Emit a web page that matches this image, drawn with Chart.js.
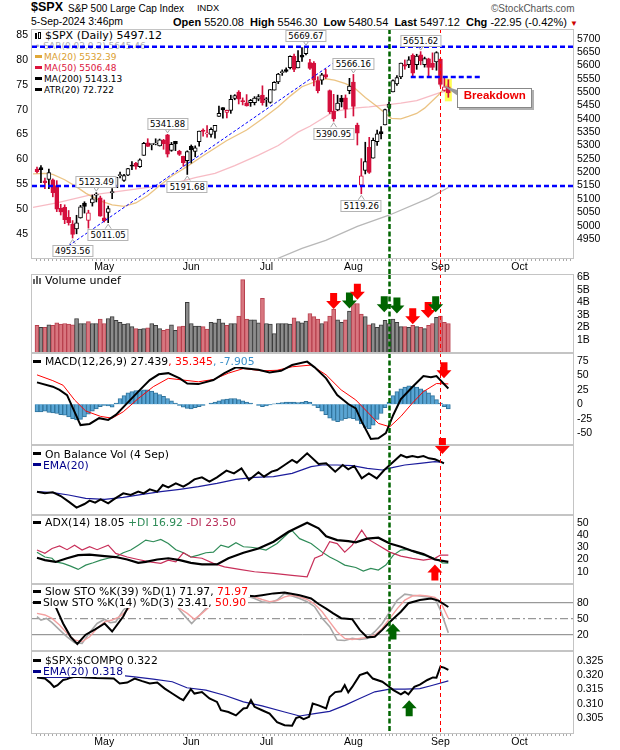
<!DOCTYPE html>
<html>
<head>
<meta charset="utf-8">
<title>$SPX Daily</title>
<script src="https://cdn.jsdelivr.net/npm/chart.js@4.4.1/dist/chart.umd.min.js"></script>
<style>
  html, body { margin: 0; padding: 0; background: #fff; }
  #wrap { position: relative; width: 620px; height: 750px; overflow: hidden; font-family: "DejaVu Sans", sans-serif; }
  canvas { position: absolute; left: 0; top: 0; z-index: 1; }
  .h { position: absolute; white-space: nowrap; font-family: "Liberation Sans", Arial, sans-serif; color: #000; line-height: 1; }
  .lg { position: absolute; left: 33px; white-space: nowrap; font-size: 10.8px; line-height: 11px; z-index: 4; background: #fff; padding-right: 2px; }
  .lm { position: absolute; left: 35px; white-space: nowrap; font-size: 9px; line-height: 11px; z-index: 0; }
  .d { display: inline-block; width: 8px; height: 3px; vertical-align: middle; margin: -2px 4px 0 0; }
  .tag { position: absolute; z-index: 3; font-size: 8.5px; line-height: 10px; padding: 0 2px; background: #fff; border: 1px solid #b4b4b4; transform: translate(-50%, -50%); white-space: nowrap; }
  #brk { position: absolute; z-index: 3; width: 73px; height: 18px; line-height: 18px; text-align: center; background: #fff; border: 1px solid #888; box-shadow: 2px 2px 0 #b0b0b0; color: #ee0000; font: bold 11.5px "Liberation Sans", Arial, sans-serif; }
</style>
</head>
<body>
<div id="wrap">
  <div class="h" style="left:31px;top:1.4px;font-size:12.5px;font-weight:bold">$SPX</div>
  <div class="h" style="left:68px;top:3.5px;font-size:10px">S&amp;P 500 Large Cap Index</div>
  <div class="h" style="left:197px;top:4.2px;font-size:9.3px">INDX</div>
  <div class="h" style="left:491px;top:3.5px;font-size:10px;color:#555">&copy;StockCharts.com</div>
  <div class="h" style="left:31px;top:17.2px;font-size:10.4px">5-Sep-2024 3:46pm</div>
  <div class="h" style="left:173px;top:16.7px;font-size:11px"><b>Open</b> 5520.08 &nbsp;<b>High</b> 5546.30 &nbsp;<b>Low</b> 5480.54 &nbsp;<b>Last</b> 5497.12 &nbsp;<b>Chg</b> -22.95 (-0.42%) <span style="color:#c00;font-size:8px">&#9660;</span></div>

  <div class="lm" style="top:29.5px;font-size:11px"><span style="display:inline-block;width:2px;height:6px;background:#000;margin-right:1px"></span><span style="display:inline-block;width:3px;height:7px;border:1px solid #000;box-sizing:border-box;margin-right:4px"></span>$SPX (Daily) 5497.12</div>
  <div class="lm" style="top:40.8px;color:#b0b0b0">&bull; SAR(0.02,0.2) 5645.46</div>
  <div class="lm" style="top:51.5px;color:#dba030"><span class="d" style="background:#e0a838;width:7px;margin-right:2px"></span>MA(20) 5532.39</div>
  <div class="lm" style="top:62.8px;color:#dc143c"><span class="d" style="background:#dc143c;width:7px;margin-right:2px"></span>MA(50) 5506.48</div>
  <div class="lm" style="top:74px"><span class="d" style="background:#000;width:7px;margin-right:2px"></span>MA(200) 5143.13</div>
  <div class="lm" style="top:84.5px"><span class="d" style="background:#000;width:7px;margin-right:2px"></span>ATR(20) 72.722</div>

  <div class="lg" style="top:274.5px;font-size:11px;background:none"><span style="display:inline-block;width:2px;height:5px;background:#666;margin-right:1px"></span><span style="display:inline-block;width:2px;height:8px;background:#666;margin-right:1px"></span><span style="display:inline-block;width:2px;height:6px;background:#666;margin-right:4px"></span>Volume undef</div>
  <div class="lg" style="top:356.2px"><span class="d" style="background:#000"></span>MACD(12,26,9) 27.439<span style="color:#f00">, 35.345</span><span style="color:#3a8fc8">, -7.905</span></div>
  <div class="lg" style="top:448.5px"><span class="d" style="background:#000"></span>On Balance Vol (4 Sep)</div>
  <div class="lg" style="top:459.5px;color:#00008b"><span class="d" style="background:#00008b;margin-right:2px"></span>EMA(20)</div>
  <div class="lg" style="top:517.2px"><span class="d" style="background:#000"></span>ADX(14) 18.05 <span style="color:#2e8b57">+DI 16.92</span> <span style="color:#b8305a">-DI 23.50</span></div>
  <div class="lg" style="top:586.2px"><span class="d" style="background:#000"></span>Slow STO %K(39) %D(1) 71.97, <span style="color:#f00">71.97</span></div>
  <div class="lg" style="top:597.2px"><span class="d" style="background:#000;margin-right:2px"></span>Slow STO %K(14) %D(3) 23.41, <span style="color:#f00">50.90</span></div>
  <div class="lg" style="top:655.2px"><span class="d" style="background:#000"></span>$SPX:$COMPQ 0.322</div>
  <div class="lg" style="top:666.2px;color:#00008b"><span class="d" style="background:#00008b;margin-right:2px"></span>EMA(20) 0.318</div>

  <canvas id="cMain" width="620" height="750"></canvas>
  <canvas id="cVol" width="620" height="750"></canvas>
  <canvas id="cMacd" width="620" height="750"></canvas>
  <canvas id="cObv" width="620" height="750"></canvas>
  <canvas id="cAdx" width="620" height="750"></canvas>
  <canvas id="cSto" width="620" height="750"></canvas>
  <canvas id="cRel" width="620" height="750"></canvas>
</div>
<script>
// ---- price data, one entry per trading day from 8 Apr 2024 to 5 Sep 2024 ----
const opens = [5211.4,5217.0,5167.9,5173.0,5171.5,5149.7,5064.6,5069.0,5031.5,5005.4,
  4987.3,5028.9,5084.7,5019.9,5084.9,5114.1,5103.8,5029.0,5049.3,5122.8,
  5142.4,5187.2,5169.0,5189.0,5225.5,5233.1,5221.1,5263.3,5310.1,5303.1,
  5305.4,5298.7,5319.3,5340.3,5281.5,5315.9,5278.7,5259.8,5243.2,5297.2,
  5278.2,5314.5,5357.8,5343.8,5341.2,5353.0,5409.1,5441.9,5424.1,5431.1,
  5476.2,5500.0,5466.8,5459.6,5460.7,5460.7,5473.6,5488.5,5471.1,5461.8,
  5507.4,5537.9,5572.8,5584.2,5591.3,5635.2,5590.8,5638.2,5644.1,5610.1,
  5608.6,5543.4,5544.5,5565.3,5505.8,5428.7,5433.7,5476.6,5478.7,5505.6,
  5537.8,5376.6,5151.1,5206.4,5293.1,5252.6,5314.7,5351.9,5377.0,5442.8,
  5501.1,5530.5,5557.2,5602.9,5603.1,5637.8,5602.5,5639.7,5602.9,5624.5,
  5607.3,5612.7,5623.9,5506.7,5520.1];
const highs = [5219.6,5224.8,5178.4,5211.8,5175.0,5168.4,5079.8,5078.0,5056.7,5019.0,
  5038.8,5076.1,5089.5,5057.8,5114.6,5123.5,5110.8,5096.1,5073.2,5139.1,
  5181.0,5200.2,5192.0,5214.5,5239.7,5237.3,5250.4,5311.8,5325.5,5305.5,
  5325.3,5324.3,5323.2,5341.9,5311.7,5315.9,5282.3,5260.2,5280.3,5302.1,
  5298.8,5354.2,5362.4,5375.1,5365.8,5376.0,5447.3,5441.9,5432.4,5488.5,
  5490.4,5505.5,5478.3,5490.7,5472.9,5483.1,5490.8,5523.6,5479.6,5509.7,
  5539.3,5570.3,5583.1,5590.8,5635.4,5642.5,5655.6,5666.9,5669.7,5622.5,
  5614.1,5557.5,5570.4,5585.3,5508.0,5491.6,5488.7,5487.7,5489.5,5551.5,
  5566.2,5383.9,5250.9,5312.3,5330.6,5328.0,5358.2,5371.2,5436.5,5463.2,
  5546.2,5562.0,5608.3,5620.5,5632.7,5643.2,5641.8,5651.6,5631.2,5627.0,
  5647.0,5651.4,5623.9,5553.0,5546.3];
const lows = [5197.4,5160.8,5138.7,5138.8,5107.9,5052.5,5039.8,5007.3,5001.9,4953.6,
  4969.4,5028.0,5047.0,4990.6,5073.1,5088.7,5035.3,5013.5,5011.1,5101.2,
  5142.4,5179.0,5165.9,5187.0,5209.7,5211.2,5218.0,5263.3,5296.2,5283.6,
  5302.4,5297.9,5286.0,5256.9,5278.4,5280.9,5262.7,5222.1,5191.7,5234.3,
  5257.6,5297.6,5335.4,5331.3,5331.5,5327.3,5409.1,5402.5,5403.8,5420.4,
  5471.3,5455.6,5452.0,5447.6,5446.6,5451.9,5467.5,5451.1,5446.5,5458.4,
  5507.4,5531.6,5562.5,5574.6,5586.4,5576.5,5590.4,5614.8,5639.0,5584.8,
  5522.8,5497.0,5529.0,5550.9,5420.0,5391.0,5430.7,5444.4,5403.8,5493.8,
  5410.4,5302.0,5119.3,5193.6,5195.5,5252.6,5300.0,5324.4,5377.0,5425.0,
  5501.1,5525.2,5550.7,5585.5,5591.6,5561.0,5585.2,5602.3,5593.5,5561.0,
  5583.7,5581.8,5522.4,5503.5,5480.5];
const closes = [5202.4,5209.9,5160.6,5199.1,5123.4,5061.8,5051.4,5022.2,5011.1,4967.2,
  5010.6,5070.6,5071.6,5048.4,5100.0,5116.2,5035.7,5018.4,5064.2,5127.8,
  5180.7,5187.7,5187.7,5214.1,5222.7,5221.4,5246.7,5308.2,5297.1,5303.3,
  5308.1,5321.4,5307.0,5267.8,5304.7,5306.0,5267.0,5235.5,5277.5,5283.4,
  5291.3,5354.0,5353.0,5347.0,5360.8,5375.3,5421.0,5433.7,5431.6,5473.2,
  5487.0,5473.2,5464.6,5447.9,5469.3,5477.9,5482.9,5460.5,5475.1,5509.0,
  5537.0,5567.2,5572.9,5577.0,5633.9,5584.5,5615.4,5631.2,5667.2,5588.3,
  5544.6,5505.0,5564.4,5555.7,5427.1,5399.2,5459.1,5463.5,5436.4,5522.3,
  5446.7,5346.6,5186.3,5240.0,5199.5,5319.3,5344.2,5344.4,5434.4,5455.2,
  5543.2,5554.3,5608.3,5597.1,5620.9,5570.6,5634.6,5616.8,5625.8,5592.2,
  5592.0,5648.4,5528.9,5520.1,5497.1];
const prevClose = 5204.3;

// volume in billions
const volumes = [2.15,2.0,2.0,2.2,2.15,2.35,2.25,2.3,2.25,2.2,
  2.7,2.3,2.3,2.45,2.3,2.3,2.65,2.3,2.7,2.85,
  2.55,2.4,2.25,2.3,2.05,1.9,1.85,1.9,1.95,2.3,
  2.15,1.9,1.75,1.85,2.2,1.75,2.05,2.1,4.0,2.3,
  2.1,2.1,2.05,1.85,2.4,2.35,2.65,2.35,2.15,2.3,
  2.3,2.9,5.8,2.65,2.6,2.6,2.35,4.3,2.3,2.25,
  1.5,2.3,2.3,2.3,2.25,2.75,2.45,2.35,2.5,3.1,
  2.85,2.65,2.3,2.45,2.9,3.45,2.6,2.4,2.6,3.3,
  3.9,3.9,3.05,2.85,2.2,2.3,2.0,2.2,2.55,2.3,
  2.65,2.4,2.05,2.05,2.0,2.15,2.05,2.0,1.9,2.15,
  2.3,2.8,2.9,2.4,2.3];

// overlays on the price panel: [day index, value]
const ma20 = [[-1,5194],[2,5196],[4,5192],[7,5172],[10,5145],[12.4,5121],[16,5093],[19,5078],[22,5072],[25,5085],[28,5113],[30.2,5140],[34,5185],[37.7,5219],[42,5262],[47.9,5318],[53,5358],[57,5400],[61,5445],[64,5485],[67,5520],[70.7,5541],[73,5550],[75.2,5545],[78,5532],[80.3,5515],[83,5480],[85.9,5447],[89.6,5402],[92,5400],[93.9,5409],[96,5420],[98,5440],[101.5,5489],[104,5532]];
const ma50 = [[-1,5068],[5,5085],[13,5113],[23,5133],[29,5145],[35,5160],[40,5180],[45,5196],[50,5225],[56,5264],[61,5300],[66,5350],[69,5372],[75,5427],[80,5440],[84,5445],[92,5459],[96,5468],[101.5,5496],[104,5506]];
const ma200 = [[55,4855],[60.5,4875],[67,4915],[73,4945],[81,4997],[89,5039],[99,5102],[104,5143]];
const levels = [5669.67, 5148];
const shelf = [[94.5,5557],[112,5557]];
const trend = [[8,4925],[76,5620]];
const priceTags = [[68,5669.67,'hi'],[80,5566.16,'hi'],[97,5651.62,'hi'],[33,5341.88,'hi'],[15,5123.49,'hi'],
  [75,5390.95,'lo'],[38,5191.68,'lo'],[18,5011.05,'lo'],[9,4953.56,'lo'],[82,5119.26,'lo']];
const breakdownAt = [102.6, 5525];

// indicators: [day index, value]
const macd = [[0,38],[4,30.5],[5.7,25],[7.6,16],[9.5,-13],[11,-36],[13.3,-34],[15.7,-24],[18,-27],[20,-18],[22.8,2],[25.6,22],[28.5,42],[30.8,52],[33.2,54],[36.1,45],[38,36],[40.8,35],[44.6,42],[47.4,54],[50.3,64],[53,62],[56,60],[58.8,55],[61.7,58],[64.5,68],[68.3,74],[70.2,64],[73.1,45],[75.9,16],[78.7,0.5],[80.6,-7],[82.1,-30],[84.4,-60],[86.3,-59],[88.2,-50],[90.1,-18],[92,9],[94.9,30],[97.7,49],[99.6,47],[101,49],[104,27.44]];
const macdSignal = [[0,51],[4,41],[6.6,33],[9.5,7.5],[12.3,-11.5],[16.1,-21],[19,-24],[21.8,-13],[25.6,10],[29.4,30.5],[33.2,45],[37,42],[40.8,39],[44.6,43],[48.4,54],[52.2,62],[56.9,58],[60.7,59],[64.5,65],[69.3,68],[73.1,51],[76.9,25],[80.6,7.5],[83.5,-13],[86.3,-33],[89.2,-39],[92,-21],[94.9,2],[97.7,22],[101,36],[104,35.35]];
const macdHist = [-13,-13,-12,-14,-15,-16,-18,-19,-22,-25,
  -27,-26,-22,-17,-12,-8,-4,-2,-3,-5,
  2,10,15,20,22,24,24,25,25,23,
  20,17,14,10,6,2,-2,-5,-7,-8,
  -6,-4,-2,0,2,4,6,8,9,10,
  10,8,6,4,2,0,-2,-4,-3,-1,
  1,2,3,4,4,4,3,4,5,4,
  -2,-6,-12,-18,-24,-28,-30,-28,-25,-24,
  -25,-28,-34,-40,-42,-36,-26,-16,-6,4,
  15,22,27,30,32,31,30,27,24,20,
  15,8,2,-4,-7.9];
const obv = [[0,75],[2,70],[4,73],[6,62],[8,45],[10,27],[12,38],[13.3,48],[14.7,42],[16.1,52],[18,40],[19.4,52],[21.8,70],[23.7,65],[25.6,75],[27,70],[28.5,82],[30.4,75],[31.8,95],[33.2,88],[35.1,100],[37,90],[38.4,100],[39.8,112],[41.7,118],[43.6,105],[45.5,118],[47.9,138],[49.8,130],[51.7,145],[53.6,110],[56,133],[57.4,120],[59.3,135],[60.7,140],[62.6,155],[64.5,170],[65.7,162],[68.3,190],[71.2,158],[73.1,160],[75.4,135],[77.3,155],[78.7,142],[80.2,152],[82.1,115],[83.9,130],[85.9,115],[87.8,140],[89.2,155],[92,185],[93.5,178],[94.9,182],[96.3,178],[97.7,182],[99.1,175],[100.6,172],[102,165],[102.9,160]];
const obvEma = [[0,75],[4,72],[8,65],[12.3,55],[17.1,52],[21.8,58],[26.6,67],[31.3,75],[36.1,82],[40.8,90],[45.5,100],[50.3,112],[55,118],[59.8,120],[64.5,130],[69.3,150],[72.1,155],[75.9,155],[79.7,153],[83.5,145],[87.3,140],[90.1,148],[93,155],[96.8,160],[100.6,165],[102.9,162]];
const adx = [[0,21.4],[2,19.5],[4.7,18],[7.6,21],[10.4,23.6],[13.3,24],[17.1,22.8],[19.9,22],[22.8,20],[25.6,17.3],[27.5,18],[30.4,20],[33.2,21],[36.1,19.5],[38.9,17.3],[41.7,16],[45.5,16],[48.4,21],[52.2,25.5],[56,29],[59.8,34.5],[63.6,42.6],[68.3,50],[71.2,45.4],[73.1,39],[75.9,35.8],[78.7,35],[80.6,34],[83.5,37],[86.3,37.8],[89.2,33],[92,30.4],[94.9,27],[97.7,24.4],[100.6,20],[104,18.05]];
const plusDI = [[0,26],[2,22],[3.8,21],[4.7,18],[6.6,16.8],[8.5,14.6],[10.4,11.9],[12.3,15.4],[14.2,17.3],[16.1,19.5],[18,21],[19.9,22],[21.8,25.5],[23.7,27.7],[25.6,31.7],[27.5,35.8],[29.4,34.5],[31.3,36.4],[33.2,33],[35.1,28],[37,25.5],[38.9,22],[40.8,23.6],[42.7,25.5],[44.6,26],[46.5,31.7],[48.4,30],[50.3,33.7],[52.2,30.4],[54.1,30],[56,29],[57.9,27.7],[60.7,33],[63.6,41.8],[64.5,43.5],[66.4,37],[69.3,33],[72.1,26],[74,22],[75.9,19],[77.8,15.4],[80.6,13.5],[82.5,10.5],[84.4,12.7],[86.3,11.4],[88.2,15.4],[90.1,23.6],[92,27.7],[93.9,28.2],[95.8,25.5],[97.7,23.6],[99.6,22],[101.5,19.5],[102.5,17.3],[104,16.92]];
const minusDI = [[0,27.7],[2,25],[3.8,29],[5.7,31],[7.6,28],[9.5,31.7],[11.4,27.7],[13.3,30.4],[15.2,28],[18,31.7],[19.9,25],[22.8,22],[25.6,20],[28.5,18],[31.3,16.8],[33.2,19.5],[35.1,18],[37,25.5],[38.9,22],[41.7,21],[44.6,16.8],[47.4,14],[51.2,11.9],[55,10],[59.8,8.6],[64.5,7],[68.3,5.9],[70.2,21],[72.1,23.6],[74,34.5],[75.9,33],[77.8,26],[79.7,31.7],[82.1,44],[83.5,37],[86.3,31.7],[89.2,26],[92,22.8],[94.9,20.9],[97.7,19.5],[100.6,20.9],[102,23.6],[104,23.5]];
const stoK39 = [[0,92],[2,88],[3.8,80],[4.7,72.5],[6.6,41],[8.5,16],[10.2,2.5],[12.3,20],[14.7,30],[17.1,41],[19,26],[21.8,54],[23.2,74],[24.2,85],[27,93],[31,96],[35,92],[38,88],[40,90],[44,94],[48,96],[52,94],[55,92],[56.9,94],[59.8,97.5],[62.6,99],[66.4,94],[69.3,88],[71.2,77.5],[73.1,69],[74.9,60],[76.9,51],[79.7,49],[81.6,29],[83.5,15],[85.4,16],[87.3,29],[89.2,44],[92,63],[93.9,79],[96.8,85],[99.6,88],[101.5,84],[104,71.97]];
const stoK14 = [[0,54],[1,47.5],[2.4,50.6],[3.8,42.5],[5.7,29],[7.6,16],[9.5,5],[11.4,3.75],[13.3,24],[15.2,41],[17.1,49],[18.5,42.5],[19.9,44],[21.8,66],[23.7,79],[26,90],[30,92],[34,88],[36.1,66],[37.9,50.6],[39.1,41],[40.8,54],[42.7,69],[45,85],[48,92],[51,90],[53.1,92.5],[55,88],[56.9,81.9],[58.8,80],[60.7,85],[62.6,97.5],[64.5,92.5],[66.4,88],[68.3,82],[70.2,72.5],[72.1,51],[74,35],[75.9,10],[77.8,9],[79.7,13],[81.6,11],[83.5,13],[85.4,25.6],[87.3,41],[89.2,63],[91.1,85],[93,96],[94.9,94],[96.8,92.5],[98.7,91],[100.6,88],[102,66],[104,23.41]];
const stoD14 = [[0,60],[2,57],[3.8,50.6],[5.7,38],[7.6,22.5],[9.5,10],[11.4,7],[13.3,16],[15.2,32],[17.1,44],[19,47.5],[20.9,54],[22.8,66],[24.2,75.6],[27,88],[31,91],[34.5,85],[36.1,69],[38,60],[39.8,49],[41.7,60],[43.6,72.5],[46,84],[50,91],[53.1,94],[55,91],[56.9,86],[58.8,82],[60.7,84],[62.6,91],[64.5,94],[66.4,91],[68.3,86],[70.2,77.5],[72.1,63],[74,44],[75.9,25.6],[77.8,13],[79.7,11],[81.6,13],[83.5,15],[85.4,19],[87.3,32],[89.2,50.6],[91.1,69],[93,85],[94.9,92.5],[96.8,94],[98.7,92.5],[100.6,90],[102,82],[104,50.9]];
const stoLevels = [80, 50, 20];
const relSpx = [[0,.3192],[2,.3188],[3.3,.3174],[4.3,.3159],[5.2,.3165],[6.6,.3183],[7.6,.3186],[8.5,.3191],[9.5,.3194],[12.5,.3192],[15,.3190],[19.4,.3188],[20.9,.3171],[22.8,.3174],[24.7,.3188],[26.6,.3179],[28.5,.3171],[30.4,.3174],[32.3,.3153],[34.2,.3136],[36.1,.3119],[37,.3113],[38.9,.3151],[39.8,.3136],[41.7,.3141],[43.6,.3119],[45.5,.3107],[46.5,.3078],[48.4,.3072],[50.3,.3060],[52.2,.3084],[53.1,.3086],[54.1,.3113],[55,.3090],[56.9,.3078],[58.8,.3066],[60.7,.3037],[62.6,.3026],[64.5,.3024],[65.5,.3051],[66.4,.3055],[67.4,.3047],[68.8,.3055],[69.7,.3101],[71.2,.3095],[73.1,.3084],[74,.3124],[75.4,.3141],[76.9,.3144],[77.8,.3165],[78.7,.3140],[79.7,.3159],[81.6,.3200],[83.5,.3209],[84.9,.3188],[87.3,.3177],[88.7,.3163],[90.1,.3148],[92,.3133],[93,.3142],[93.9,.3133],[95.4,.3159],[96.8,.3167],[98.7,.3183],[100.1,.3192],[101,.3191],[102,.3229],[102.9,.3226],[104,.3218]];
const relEma = [[0,.3192],[4,.3192],[8,.3192],[9.5,.3194],[19.4,.3202],[24.7,.3194],[29.4,.3186],[34.2,.3177],[37.9,.3156],[42.7,.3148],[47.4,.3130],[52.2,.3107],[56.9,.3093],[62.6,.3072],[66.4,.3058],[70.2,.3066],[74,.3074],[77.8,.3095],[81.6,.3119],[85.4,.3142],[89.2,.3151],[93,.3151],[96.8,.3153],[99.6,.3163],[104,.318]];

// signal arrows: [day index, value at tip, 'up' | 'down', colour]
const volArrows = [[75,3.45,'down','r'],[79,3.5,'down','g'],[81,4.2,'down','r'],[87.8,3.2,'down','g'],[91,3.1,'down','g'],[95,2.25,'down','r'],[98.9,2.75,'down','r'],[100.8,3.2,'down','g']];
const macdArrows = [[102.9,45,'down','r']];
const obvArrows = [[102.5,188,'down','r']];
const adxArrows = [[100.6,16,'up','r']];
const stoArrows = [[90,41,'up','g']];
const relArrows = [[94.1,.3113,'up','g']];

// axis labels
const monthIdx = [17, 39, 58, 80, 102, 122];
const monthNames = ['May', 'Jun', 'Jul', 'Aug', 'Sep', 'Oct'];
const markerIdx = [89, 102];   // 14 Aug and 3 Sep

// ---- drawing ----
const X_MIN = -1.264, X_MAX = 135.52;
const TICK_FONT = {family: '"Liberation Sans", Arial, sans-serif', size: 10.5};
const RED = '#d40f3c';
const isUp = closes.map((c, i) => c >= (i ? closes[i - 1] : prevClose));
const candleCol = isUp.map(u => u ? '#000' : RED);
const bodyFill = closes.map((c, i) => c >= opens[i] ? '#fff' : candleCol[i]);
const pts = arr => arr.map(([x, y]) => ({x, y}));

function line(pairs, color, width, order, extra) {
  return Object.assign({type: 'line', data: pts(pairs), borderColor: color, borderWidth: width,
    pointRadius: 0, fill: false, order: order}, extra || {});
}

function xAxis(show, h) {
  if (!show) return {type: 'linear', display: false, min: X_MIN, max: X_MAX, offset: false};
  return {
    type: 'linear', min: X_MIN, max: X_MAX, offset: false,
    afterBuildTicks: s => { s.ticks = []; for (let i = 0; i <= 135; i++) s.ticks.push({value: i}); },
    afterFit: s => { s.height = h; },
    ticks: {autoSkip: false, maxRotation: 0, minRotation: 0, padding: 0, color: '#000', font: TICK_FONT,
      callback: v => { const k = monthIdx.indexOf(v); return k < 0 ? '' : monthNames[k]; }},
    grid: {drawOnChartArea: false, drawTicks: true, tickLength: 2, color: '#aaa', offset: false},
    border: {display: false}
  };
}

function yAxis(pos, min, max, ticks, fmt, width) {
  return {
    position: pos, min: min, max: max,
    afterBuildTicks: s => { s.ticks = ticks.map(v => ({value: v})); },
    afterFit: s => { s.width = width; },
    ticks: {display: ticks.length > 0, color: '#000', font: TICK_FONT, padding: 4, autoSkip: false, callback: fmt},
    grid: {display: false, drawTicks: false},
    border: {display: false}
  };
}

function arrowPath(ctx, x, tip, up) {
  const s = up ? -1 : 1, hw = 7.5, hh = 8, sw = 3.5, sh = 8;
  ctx.beginPath();
  ctx.moveTo(x, tip);
  ctx.lineTo(x - hw, tip - s * hh);
  ctx.lineTo(x - sw, tip - s * hh);
  ctx.lineTo(x - sw, tip - s * (hh + sh));
  ctx.lineTo(x + sw, tip - s * (hh + sh));
  ctx.lineTo(x + sw, tip - s * hh);
  ctx.lineTo(x + hw, tip - s * hh);
  ctx.closePath();
}

const deco = {
  id: 'deco',
  beforeDatasetsDraw(chart, args, o) {
    if (o.highlight == null) return;
    const {ctx} = chart, x = chart.scales.x, y = chart.scales.y, i = o.highlight;
    const px = x.getPixelForValue(i);
    const top = y.getPixelForValue(highs[i]) - 1, bot = y.getPixelForValue(lows[i]) + 4;
    ctx.save();
    ctx.fillStyle = '#ffff55';
    ctx.fillRect(px - 3.5, top, 7, bot - top);
    ctx.restore();
  },
  afterDatasetsDraw(chart, args, o) {
    const {ctx, chartArea: a} = chart, x = chart.scales.x, y = chart.scales.y;
    ctx.save();
    // the two event lines run through every panel
    markerIdx.forEach((m, k) => {
      const px = Math.round(x.getPixelForValue(m)) + 0.5;
      ctx.beginPath();
      ctx.strokeStyle = k ? '#ff0000' : '#006400';
      ctx.lineWidth = k ? 1 : 2.5;
      ctx.setLineDash(k ? [4, 3] : [5, 2.5]);
      ctx.moveTo(px, a.top);
      ctx.lineTo(px, a.bottom + (o.vExt || 0));
      ctx.stroke();
    });
    ctx.setLineDash([]);
    (o.arrows || []).forEach(([i, v, dir, c]) => {
      arrowPath(ctx, x.getPixelForValue(i), y.getPixelForValue(v), dir === 'up');
      ctx.fillStyle = c === 'g' ? '#006400' : '#ff0000';
      ctx.fill();
    });
    if (o.tags) {
      ctx.strokeStyle = '#a8a8a8';
      ctx.lineWidth = 1;
      priceTags.forEach(([i, v, side]) => {
        const px = x.getPixelForValue(i), py = y.getPixelForValue(v), s = side === 'hi' ? -1 : 1;
        ctx.beginPath();
        ctx.moveTo(px - 3, py + s * 6);
        ctx.lineTo(px, py + s * 1.5);
        ctx.lineTo(px + 3, py + s * 6);
        ctx.stroke();
      });
    }
    if (o.callout) {
      const tx = x.getPixelForValue(breakdownAt[0]), ty = y.getPixelForValue(breakdownAt[1]);
      ctx.fillStyle = '#999';
      ctx.beginPath();
      ctx.moveTo(tx, ty);
      ctx.lineTo(tx + 16, ty + 5);
      ctx.lineTo(tx + 16, ty + 11);
      ctx.closePath();
      ctx.fill();
    }
    ctx.strokeStyle = '#c4c4c4';
    ctx.lineWidth = 1;
    ctx.strokeRect(Math.round(a.left) - 0.5, Math.round(a.top) + 0.5, Math.round(a.width) + 1, Math.round(a.height) - 1);
    ctx.restore();
  }
};

function panel(id, top, bottom, xh, left, datasets, scales, opts) {
  return new Chart(document.getElementById(id), {
    type: 'bar',
    data: {datasets: datasets},
    options: {
      responsive: false, animation: false, devicePixelRatio: 1, events: [],
      layout: {padding: {top: top, bottom: 750 - bottom - xh, left: left, right: 0}},
      plugins: {legend: {display: false}, tooltip: {enabled: false}, deco: opts},
      scales: scales
    },
    plugins: [deco]
  });
}

const dayIdx = closes.map((c, i) => i);
const wick = dayIdx.map(i => ({x: i, y: [lows[i], highs[i]]}));
const body = dayIdx.map(i => ({x: i, y: [opens[i], closes[i]]}));
const dashBlue = {borderDash: [5, 3], borderColor: '#0000ff'};

const main = panel('cMain', 29, 259, 15, 0, [
  line(ma20, 'rgba(230,180,100,0.8)', 1.3, 9),
  line(ma50, 'rgba(242,150,165,0.65)', 1.3, 9),
  line(ma200, '#b8b8b8', 1.3, 9),
  {type: 'bar', data: wick, backgroundColor: candleCol, barThickness: 1, grouped: false, order: 6},
  {type: 'bar', data: body, backgroundColor: bodyFill, borderColor: candleCol, borderWidth: 1,
    borderSkipped: false, barThickness: 4, grouped: false, minBarLength: 1, order: 5},
  line(trend, '#0000ff', 1, 2, {borderDash: [3, 2]}),
  line([[X_MIN, levels[0]], [X_MAX, levels[0]]], '#0000ff', 2.5, 1, dashBlue),
  line([[X_MIN, levels[1]], [X_MAX, levels[1]]], '#0000ff', 2.5, 1, dashBlue),
  line(shelf, '#0000ff', 2.5, 1, dashBlue)
], {
  x: xAxis(true, 15),
  y: yAxis('right', 4875.1, 5736.3, [4950,5000,5050,5100,5150,5200,5250,5300,5350,5400,5450,5500,5550,5600,5650,5700], v => v, 47),
  yL: yAxis('left', 40, 86.2, [45,50,55,60,65,70,75,80,85], v => v, 32)
}, {vExt: 15, tags: true, callout: true, highlight: 104});

panel('cVol', 274, 353, 0, 32, [
  {type: 'bar', data: dayIdx.map(i => ({x: i, y: volumes[i]})),
    backgroundColor: isUp.map(u => u ? '#8c8c8c' : '#d8767f'),
    borderColor: isUp.map(u => u ? '#3c3c3c' : '#b8404e'),
    borderWidth: 1, barThickness: 4, grouped: false}
], {
  x: xAxis(false),
  y: yAxis('right', -0.05, 6.25, [1,2,3,4,5,6], v => v + 'B', 47)
}, {arrows: volArrows});

panel('cMacd', 353, 445, 0, 32, [
  {type: 'bar', data: dayIdx.map(i => ({x: i, y: macdHist[i]})), backgroundColor: '#59a5d4',
    borderColor: '#2f739c', borderWidth: 1, barThickness: 4, grouped: false, order: 5},
  line(macdSignal, '#ff0000', 1, 2),
  line(macd, '#000', 2, 1)
], {
  x: xAxis(false),
  y: yAxis('right', -70.5, 88.9, [-50,-25,0,25,50,75], v => v, 47)
}, {arrows: macdArrows});

panel('cObv', 445, 515, 0, 32, [
  line(obvEma, '#1c1c9c', 1.2, 2),
  line(obv, '#000', 2, 1)
], {
  x: xAxis(false),
  y: yAxis('right', 5, 215, [], v => v, 47)
}, {arrows: obvArrows});

panel('cAdx', 515, 584, 0, 32, [
  line(plusDI, '#2e8b57', 1.2, 3),
  line(minusDI, '#c8305a', 1.2, 2),
  line(adx, '#000', 2.2, 1)
], {
  x: xAxis(false),
  y: yAxis('right', 0, 56.3, [10,20,30,40,50], v => v, 47)
}, {arrows: adxArrows});

panel('cSto', 584, 651, 0, 32, [
  line([[X_MIN, stoLevels[0]], [X_MAX, stoLevels[0]]], '#808080', 1, 6),
  line([[X_MIN, stoLevels[1]], [X_MAX, stoLevels[1]]], '#808080', 1, 6, {borderDash: [8, 3, 2, 3]}),
  line([[X_MIN, stoLevels[2]], [X_MAX, stoLevels[2]]], '#808080', 1, 6),
  line(stoK14, '#a8a8a8', 1.6, 3),
  line(stoD14, '#f4a0a0', 1.4, 2),
  line(stoK39, '#000', 2, 1)
], {
  x: xAxis(false),
  y: yAxis('right', -10.6, 115.1, [20,50,80], v => v, 47)
}, {arrows: stoArrows});

panel('cRel', 651, 734, 16, 32, [
  line(relEma, '#1c1c9c', 1.2, 2),
  line(relSpx, '#000', 2, 1)
], {
  x: xAxis(true, 16),
  y: yAxis('right', 0.29955, 0.32837, [0.305,0.31,0.315,0.32,0.325], v => v.toFixed(3), 47)
}, {arrows: relArrows});

// price tags and the call-out box are placed through the price panel's scales
const wrap = document.getElementById('wrap');
const sx = main.scales.x, sy = main.scales.y;
priceTags.forEach(([i, v, side]) => {
  const t = document.createElement('div');
  t.className = 'tag';
  t.textContent = v.toFixed(2);
  t.style.left = sx.getPixelForValue(i) + 'px';
  t.style.top = (sy.getPixelForValue(v) + (side === 'hi' ? -10.5 : 12.5)) + 'px';
  wrap.appendChild(t);
});
const b = document.createElement('div');
b.id = 'brk';
b.textContent = 'Breakdown';
b.style.left = (sx.getPixelForValue(breakdownAt[0]) + 14.5) + 'px';
b.style.top = (sy.getPixelForValue(breakdownAt[1]) + 3) + 'px';
wrap.appendChild(b);
</script>
</body>
</html>
